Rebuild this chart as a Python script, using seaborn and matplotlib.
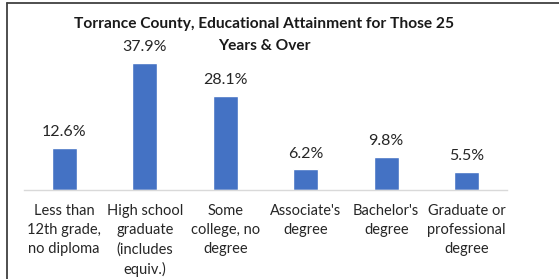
import matplotlib
matplotlib.use('Agg')
import matplotlib.pyplot as plt
import seaborn as sns
import pandas as pd
from matplotlib.lines import Line2D

# Data
categories = ['Less than\n12th grade,\nno diploma', 'High school\ngraduate\n(includes\nequiv.)',
              'Some\ncollege, no\ndegree', "Associate's\ndegree", "Bachelor's\ndegree",
              'Graduate or\nprofessional\ndegree']
values = [12.6, 37.9, 28.1, 6.2, 9.8, 5.5]
title_lines = ['Torrance County, Educational Attainment for Those 25', 'Years & Over']

df = pd.DataFrame({'cat': categories, 'pct': values})

sns.set_style('white')
plt.rcParams['font.family'] = ['Lato', 'DejaVu Sans']

fig = plt.figure(figsize=(5.59, 2.79), dpi=100)
ax = fig.add_axes([24 / 559, 1 - 190 / 279, 483 / 559, 150 / 279])

sns.barplot(data=df, x='cat', y='pct', color='#4472C4', saturation=1, width=0.31, ax=ax)
ax.set_ylim(0, 150 / 3.35)
ax.set_xlim(-0.5, 5.5)

for i, v in enumerate(values):
    ax.text(i, v + 2.6, f'{v:.1f}%', ha='center', va='bottom', fontsize=11.5, color='#262626')

for s in ['top', 'right', 'left']:
    ax.spines[s].set_visible(False)
ax.spines['bottom'].set_color('#D9D9D9')
ax.spines['bottom'].set_linewidth(1)
ax.set_yticks([])
ax.set_xlabel('')
ax.set_ylabel('')
ax.tick_params(axis='x', length=0, pad=10, labelsize=10.5, labelcolor='#262626')
for lbl in ax.get_xticklabels():
    lbl.set_linespacing(1.45)

# title, one text per line
tx = 0.5 * (80 + 448) / 559
for j, line in enumerate(title_lines):
    fig.text(tx, 1 - (24 + 22 * j) / 279, line, ha='center', va='center',
             fontsize=11.2, fontweight='bold', color='#1a1a1a')

# chart frame (top and left edges visible)
fig.add_artist(Line2D([7 / 559, 7 / 559], [0, 1 - 2.5 / 279], color='#404040', lw=1.3))
fig.add_artist(Line2D([7 / 559, 1], [1 - 2.5 / 279, 1 - 2.5 / 279], color='#404040', lw=1.3))

fig.savefig('out.png', dpi=100)
